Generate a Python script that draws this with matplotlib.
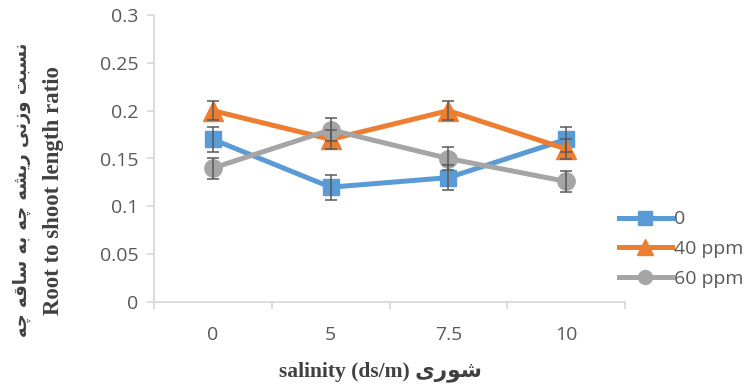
import numpy as np
import matplotlib
matplotlib.use("Agg")
import matplotlib.pyplot as plt

categories = ['0', '5', '7.5', '10']
series_names = ['0', '40 ppm', '60 ppm']
ratio_0 = [0.17, 0.12, 0.13, 0.17]
err_0 = [0.013, 0.013, 0.013, 0.013]
ratio_40 = [0.20, 0.17, 0.20, 0.16]
err_40 = [0.01, 0.01, 0.01, 0.01]
ratio_60 = [0.14, 0.18, 0.15, 0.126]
err_60 = [0.011, 0.012, 0.012, 0.011]

# Persian text, already shaped (presentation forms) and in visual order
fa_ylabel = ("\uFEEA\uFB7C \uFEEA\uFED7\uFE8E\uFEB3 \uFEEA\uFE91 \uFEEA\uFB7C "
             "\uFEEA\uFEB8\uFBFE\uFEAD \uFBFD\uFEE7\uFEAF\uFEED \uFE96\uFE92\uFEB4\uFEE7")
en_ylabel = "Root to shoot length ratio"
xlabel = "salinity (ds/m) \uFBFC\uFEAD\uFEEE\uFEB7"

colors = ['#5B9BD5', '#ED7D31', '#A5A5A5']
markers = ['s', '^', 'o']
msizes = [12, 14, 12.5]

fig = plt.figure(figsize=(7.46, 3.85), dpi=100)
ax = fig.add_axes([154 / 746, 1 - 302 / 385, (625 - 154) / 746, (302 - 15) / 385])

x = np.arange(len(categories))
for vals, errs, name, c, m, ms in zip([ratio_0, ratio_40, ratio_60],
                                      [err_0, err_40, err_60],
                                      series_names, colors, markers, msizes):
    ax.plot(x, vals, color=c, lw=3.6, marker=m, ms=ms, label=name, zorder=3)
    ax.errorbar(x, vals, yerr=errs, fmt='none', ecolor='#595959',
                elinewidth=1.1, capsize=4.5, capthick=1.1, zorder=4)

ax.set_xlim(-0.5, len(categories) - 0.5)
ax.set_ylim(0, 0.3)
ax.set_yticks(np.arange(0, 0.301, 0.05))
ax.set_yticklabels(['0', '0.05', '0.1', '0.15', '0.2', '0.25', '0.3'])
ax.set_xticks(x)
ax.set_xticklabels(categories)
ax.set_xticks(np.arange(-0.5, len(categories), 1), minor=True)

for lab in ax.get_xticklabels() + ax.get_yticklabels():
    lab.set_fontfamily('Open Sans')
    lab.set_fontsize(14)
    lab.set_color('#595959')

for s in ['top', 'right']:
    ax.spines[s].set_visible(False)
for s in ['left', 'bottom']:
    ax.spines[s].set_color('#D9D9D9')
    ax.spines[s].set_linewidth(1.3)
ax.tick_params(axis='y', length=5, color='#D9D9D9', width=1.3, pad=6)
ax.tick_params(axis='x', which='major', length=0, pad=17)
ax.tick_params(axis='x', which='minor', length=5, color='#D9D9D9', width=1.3)

fig.text(22 / 746, 1 - 190 / 385, fa_ylabel, rotation=90, ha='center', va='center',
         family=['DejaVu Sans'], weight='bold', size=13, color='#404040')
fig.text(54 / 746, 1 - 191 / 385, en_ylabel, rotation=90, ha='center', va='center',
         family=['Liberation Serif', 'DejaVu Sans'], weight='bold', size=16.5, color='#404040')
fig.text(380 / 746, 1 - 372 / 385, xlabel, ha='center', va='center',
         family=['Liberation Serif', 'DejaVu Sans'], weight='bold', size=15.5, color='#404040')

leg = ax.legend(loc='center left', bbox_to_anchor=(619 / 746, 1 - 249 / 385),
                bbox_transform=fig.transFigure, frameon=False, borderpad=0,
                borderaxespad=0, prop=dict(family='Open Sans', size=14),
                handlelength=2.7, handletextpad=0.15, labelspacing=0.6,
                markerscale=0.8)
for t in leg.get_texts():
    t.set_color('#595959')

fig.savefig('out.png', dpi=100)
